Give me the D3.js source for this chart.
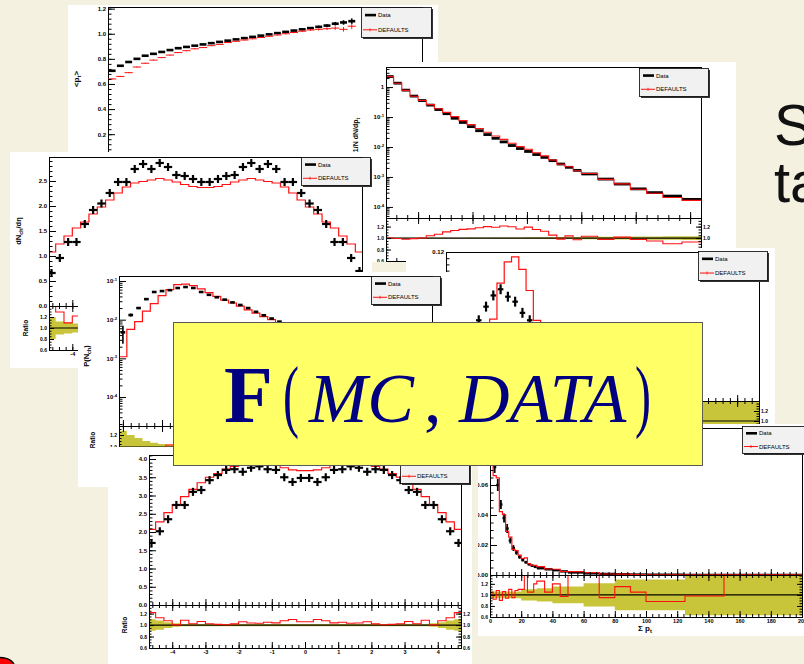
<!DOCTYPE html>
<html>
<head>
<meta charset="utf-8">
<title>F(MC, DATA)</title>
<script src="https://cdn.jsdelivr.net/npm/d3@7/dist/d3.min.js"></script>
<style>
  html, body { margin: 0; padding: 0; background: #f5f1e1; }
  svg { display: block; }
</style>
</head>
<body>
<svg id="chart" width="804" height="664"></svg>
<script>
// ---------------- data ----------------
const legendLabels = ["Data", "DEFAULTS"];

// <p_t> vs N_ch
const ptNch = [1,2,3,4,5,6,7,8,9,10,11,12,13,14,15,16,17,18,19,20,21,22,23,24,25,26,27,28,29,30];
const ptData = [0.705,0.745,0.775,0.800,0.825,0.840,0.855,0.870,0.885,0.895,0.905,0.915,0.925,0.935,0.945,0.955,0.965,0.975,0.985,0.995,1.005,1.015,1.025,1.035,1.045,1.055,1.065,1.080,1.090,1.100];
const ptDataErr = [0.004,0.004,0.004,0.004,0.004,0.004,0.004,0.004,0.004,0.004,0.004,0.004,0.004,0.004,0.004,0.004,0.004,0.004,0.004,0.005,0.005,0.006,0.006,0.007,0.008,0.009,0.011,0.014,0.018,0.022];
const ptMC = [0.640,0.660,0.690,0.735,0.765,0.790,0.810,0.830,0.850,0.865,0.880,0.890,0.905,0.915,0.930,0.940,0.950,0.960,0.970,0.980,0.990,1.000,1.010,1.020,1.030,1.035,1.040,1.045,1.035,1.060];
const ptMCErr = [0.004,0.004,0.004,0.004,0.004,0.004,0.004,0.004,0.004,0.004,0.004,0.004,0.004,0.004,0.004,0.004,0.004,0.004,0.004,0.005,0.005,0.006,0.006,0.007,0.008,0.009,0.011,0.014,0.018,0.022];

// 1/N dN/dp_t
const dndptEdges = [0.4,0.55,0.7,0.85,1.0,1.15,1.3,1.45,1.6,1.75,1.9,2.05,2.2,2.35,2.5,2.65,2.8,2.95,3.1,3.25,3.4,3.55,3.7,3.85,4.0,4.3,4.6,4.9,5.2,5.5,5.85,6.2];
const dndptData = [2.24,1.35,0.79,0.50,0.355,0.25,0.178,0.129,0.091,0.066,0.048,0.035,0.026,0.0195,0.0148,0.0112,0.0089,0.0071,0.0056,0.0045,0.0035,0.0027,0.0021,0.00166,0.00126,0.00085,0.00058,0.0004,0.0003,0.00023,0.000178];
const dndptMC = [2.24,1.34,0.774,0.495,0.355,0.26,0.19,0.143,0.103,0.076,0.0557,0.0413,0.0312,0.0232,0.0179,0.0134,0.0103,0.00845,0.00644,0.00504,0.00368,0.00265,0.00218,0.00161,0.0013,0.00083,0.00059,0.00039,0.000285,0.000207,0.000166];
const dndptBand = [0.005,0.005,0.005,0.005,0.005,0.006,0.006,0.006,0.007,0.007,0.008,0.008,0.009,0.010,0.010,0.011,0.012,0.013,0.014,0.015,0.016,0.017,0.018,0.019,0.020,0.022,0.024,0.026,0.028,0.030,0.032];

// dN_ch/deta, shared eta binning
const etaCenters = [-4.625,-4.375,-4.125,-3.875,-3.625,-3.375,-3.125,-2.875,-2.625,-2.375,-2.125,-1.875,-1.625,-1.375,-1.125,-0.875,-0.625,-0.375,-0.125,0.125,0.375,0.625,0.875,1.125,1.375,1.625,1.875,2.125,2.375,2.625,2.875,3.125,3.375,3.625,3.875,4.125,4.375,4.625];
const etaTicks = [-4,-3,-2,-1,0,1,2,3,4];

const etaLowData = [0.66,0.96,1.28,1.28,1.64,1.92,2.05,2.26,2.48,2.48,2.74,2.84,2.74,2.86,2.78,2.62,2.60,2.54,2.48,2.48,2.54,2.60,2.62,2.78,2.86,2.74,2.84,2.74,2.48,2.48,2.26,2.05,1.92,1.64,1.28,1.28,0.96,0.70];
const etaLowMC = [1.08,1.24,1.40,1.56,1.68,1.84,1.98,2.12,2.26,2.38,2.46,2.49,2.52,2.55,2.52,2.48,2.43,2.39,2.37,2.37,2.39,2.43,2.48,2.52,2.55,2.52,2.49,2.46,2.38,2.26,2.12,1.98,1.84,1.68,1.56,1.40,1.24,1.08];
const etaLowBand = [0.20,0.12,0.10,0.08,0.07,0.06,0.05,0.05,0.04,0.04,0.04,0.04,0.04,0.04,0.04,0.04,0.04,0.04,0.04,0.04,0.04,0.04,0.04,0.04,0.04,0.04,0.04,0.04,0.04,0.04,0.05,0.05,0.06,0.07,0.08,0.10,0.12,0.20];

const etaHighData = [1.70,2.02,2.35,2.74,2.74,3.10,3.15,3.42,3.56,3.70,3.72,3.65,3.76,3.80,3.72,3.70,3.50,3.37,3.48,3.48,3.37,3.50,3.70,3.72,3.80,3.76,3.65,3.72,3.70,3.56,3.42,3.15,3.10,2.74,2.74,2.35,2.02,1.70];
const etaHighMC = [2.07,2.28,2.53,2.75,2.97,3.17,3.35,3.50,3.60,3.72,3.80,3.86,3.90,3.92,3.90,3.84,3.76,3.70,3.68,3.68,3.70,3.76,3.84,3.90,3.92,3.90,3.86,3.80,3.72,3.60,3.50,3.35,3.17,2.97,2.75,2.53,2.28,2.07];
const etaHighBand = [0.10,0.08,0.05,0.03,0.02,0.02,0.02,0.02,0.02,0.02,0.02,0.02,0.02,0.02,0.02,0.02,0.02,0.02,0.02,0.02,0.02,0.02,0.02,0.02,0.02,0.02,0.02,0.02,0.02,0.02,0.02,0.02,0.02,0.02,0.03,0.05,0.08,0.10];

// P(N_ch)
const nch = [0,1,2,3,4,5,6,7,8,9,10,11,12,13,14,15,16,17,18,19,20,21,22,23,24,25,26,27,28,29,30];
const nchData = [0.0047,0.0132,0.020,0.034,0.052,0.055,0.058,0.066,0.070,0.066,0.052,0.044,0.038,0.033,0.028,0.024,0.020,0.016,0.013,0.0107,0.0089,0.0075,0.0063,0.0053,0.0044,0.0037,0.0031,0.0026,0.0021,0.0018,0.0015];
const nchDataErr = [0.0023,0.0012,0.0012,0.0015,0.002,0.002,0.002,0.002,0.002,0.002,0.0018,0.0016,0.0014,0.0012,0.001,0.0009,0.0008,0.0007,0.0006,0.0005,0.0004,0.0004,0.0003,0.0003,0.0003,0.0002,0.0002,0.0002,0.0002,0.0001,0.0001];
const nchMC = [0.0011,0.0056,0.0089,0.0166,0.026,0.042,0.060,0.081,0.083,0.076,0.063,0.050,0.040,0.032,0.027,0.0224,0.018,0.0148,0.012,0.010,0.0081,0.0066,0.0054,0.0044,0.0036,0.0029,0.0024,0.0019,0.0016,0.0013,0.0010];
const nchBand = [0.27,0.20,0.15,0.10,0.07,0.05,0.04,0.03,0.03,0.03,0.03,0.03,0.03,0.03,0.03,0.03,0.03,0.03,0.03,0.03,0.03,0.03,0.03,0.03,0.03,0.03,0.03,0.03,0.03,0.03,0.03];

// peaked distribution (0.12 scale)
const eBins = [3,4,5,6,7,8,9,10,11,12,13,14];
const eData = [0.045,0.065,0.076,0.085,0.090,0.084,0.080,0.071,0.065,0.050,0.035,0.022];
const eDataErr = [0.004,0.004,0.004,0.004,0.004,0.004,0.004,0.004,0.004,0.004,0.004,0.004];
const eMC = [0.005,0.015,0.035,0.066,0.095,0.112,0.116,0.106,0.089,0.065,0.040,0.022];
const eBandEdges = [0,10,20,30,43];
const eBand = [0.10,0.30,0.50,0.50];

// sum p_t
const sptEdges = [0,2,4,6,8,10,12,14,16,18,20,22,24,26,28,30,35,40,45,50,60,70,80,90,100,125,150,200];
const sptData = [0.085,0.072,0.060,0.047,0.038,0.031,0.023,0.018,0.015,0.012,0.010,0.0085,0.0072,0.0062,0.0054,0.0045,0.0038,0.0032,0.0024,0.0017,0.0011,0.0007,0.0005,0.0003,0.0002,0.0001,0.00005];
const sptDataErr = [0.004,0.004,0.004,0.003,0.003,0.003,0.002,0.002,0.0015,0.0012,0.001,0.0009,0.0008,0.0007,0.0006,0.0005,0.0004,0.0004,0.0003,0.0002,0.0002,0.0001,0.0001,0.0001,0.00005,0.00003,0.00002];
const sptMC = [0.08925,0.06624,0.0648,0.0423,0.04028,0.02914,0.0253,0.0171,0.0162,0.0132,0.011,0.011475,0.00756,0.00651,0.00648,0.005625,0.00399,0.00384,0.002328,0.002295,0.001595,0.000665,0.000575,0.000315,0.000176,0.000098,0.000075];
const sptBand = [0.06,0.06,0.06,0.06,0.06,0.06,0.06,0.06,0.06,0.06,0.10,0.10,0.10,0.10,0.10,0.12,0.12,0.15,0.15,0.15,0.21,0.21,0.28,0.28,0.28,0.37,0.37];
const sptTicks = [0,20,40,60,80,100,120,140,160,180,200];

// axis titles
const titleMeanPt = [["<p",0],["t",1],[">",0]];
const titleDndpt = [["1/N dN/dp",0],["t",1]];
const titleDndeta = [["dN",0],["ch",1],["/d",0],["\u03b7",0]];
const titlePnch = [["P(N",0],["ch",1],[")",0]];
const titleRatio = [["Ratio",0]];
const titleSumPt = [["\u03a3 p",0],["t",1]];

// ---------------- drawing helpers ----------------
const FONT = "'Liberation Sans', Arial, Helvetica, sans-serif";
const SERIF = "'Liberation Serif', 'Times New Roman', serif";
const BAND = "#c9c53b";
const RED = "#ff1010";
const FMT1 = d3.format(".1f");
const FMT2 = d3.format(".2f");
const plain = d => String(d);

const svg = d3.select("#chart");
const defs = svg.append("defs");
let clipCount = 0;

function clip(x0, y0, x1, y1) {
  const id = "clip" + (clipCount++);
  defs.append("clipPath").attr("id", id).append("rect")
    .attr("x", x0).attr("y", y0).attr("width", x1 - x0).attr("height", y1 - y0);
  return `url(#${id})`;
}

function sheet(x, y, w, h) {
  const g = svg.append("g").attr("clip-path", clip(x, y, x + w, y + h));
  g.append("rect").attr("x", x).attr("y", y).attr("width", w).attr("height", h).attr("fill", "#fff");
  return g;
}

function frame(g, x0, y0, x1, y1) {
  g.append("rect").attr("x", x0 + 0.5).attr("y", y0 + 0.5)
    .attr("width", x1 - x0).attr("height", y1 - y0)
    .attr("fill", "none").attr("stroke", "#000").attr("stroke-width", 1);
}

const lin = (a, b, s) => d3.range(Math.round(a / s), Math.round(b / s) + 1).map(k => +(k * s).toFixed(6));

function logTicks(scale, minor) {
  const [lo, hi] = d3.extent(scale.domain());
  const out = [];
  for (let e = Math.floor(Math.log10(lo)); e <= Math.ceil(Math.log10(hi)); e++) {
    for (let k = 1; k <= 9; k++) {
      if (!minor && k > 1) break;
      if (minor && k === 1) continue;
      const v = k * Math.pow(10, e);
      if (v >= lo && v <= hi) out.push(v);
    }
  }
  return out;
}

function axis(g, kind, scale, pos, values, len, fmt, fs) {
  const maker = {left: d3.axisLeft, right: d3.axisRight, top: d3.axisTop, bottom: d3.axisBottom}[kind];
  const [d0, d1] = d3.extent(scale.domain());
  const vals = values.filter(v => v >= d0 - 1e-9 && v <= d1 + 1e-9);
  const a = g.append("g")
    .attr("transform", (kind === "left" || kind === "right") ? `translate(${pos},0)` : `translate(0,${pos})`)
    .call(maker(scale).tickValues(vals).tickSize(-len).tickPadding(2).tickFormat(fmt || (() => "")));
  a.select(".domain").remove();
  a.selectAll("line").attr("stroke", "#000").attr("stroke-width", 1);
  a.selectAll("text").attr("fill", "#000").attr("font-family", FONT)
    .attr("font-size", fs || 6).attr("font-weight", "bold");
  return a;
}

function logLabels(a) {
  a.selectAll(".tick text").each(function(d) {
    const e = Math.round(Math.log10(d));
    const t = d3.select(this).text(null);
    if (e === 0) { t.text("1"); return; }
    t.append("tspan").text("10");
    t.append("tspan").attr("dy", -2.6).attr("font-size", 4.2).text(e);
  });
}

function logAxis(g, scale, pos) {
  axis(g, "left", scale, pos, logTicks(scale, true), 3.5);
  logLabels(axis(g, "left", scale, pos, logTicks(scale, false), 7, plain, 6));
}

function markers(g, x, y, lo, hi, vals, errs, color, w, ew) {
  g.append("g").selectAll("line").data(vals).join("line")
    .attr("x1", (d, i) => x(lo[i])).attr("x2", (d, i) => x(hi[i]))
    .attr("y1", d => y(d)).attr("y2", d => y(d))
    .attr("stroke", color).attr("stroke-width", w);
  if (errs) {
    g.append("g").selectAll("line").data(vals).join("line")
      .attr("x1", (d, i) => (x(lo[i]) + x(hi[i])) / 2).attr("x2", (d, i) => (x(lo[i]) + x(hi[i])) / 2)
      .attr("y1", (d, i) => y(d - errs[i])).attr("y2", (d, i) => y(d + errs[i]))
      .attr("stroke", color).attr("stroke-width", ew || w);
  }
}

function stepLine(g, x, y, edges, vals, color, w) {
  const pts = vals.map((v, i) => [edges[i], v]);
  pts.push([edges[vals.length], vals[vals.length - 1]]);
  g.append("path").datum(pts)
    .attr("d", d3.line().curve(d3.curveStepAfter).x(d => x(d[0])).y(d => y(d[1])))
    .attr("fill", "none").attr("stroke", color).attr("stroke-width", w);
}

function band(g, x, r, edges, halves) {
  const pts = halves.map((h, i) => [edges[i], h]);
  pts.push([edges[halves.length], halves[halves.length - 1]]);
  g.append("path").datum(pts)
    .attr("d", d3.area().curve(d3.curveStepAfter).x(d => x(d[0])).y0(d => r(1 - d[1])).y1(d => r(1 + d[1])))
    .attr("fill", BAND).attr("stroke", "none");
}

function unitLine(g, x, r) {
  const [a, b] = x.domain();
  g.append("line").attr("x1", x(a)).attr("x2", x(b)).attr("y1", r(1)).attr("y2", r(1))
    .attr("stroke", "#000").attr("stroke-width", 1.2);
}

function title(g, x, y, parts, fs, vertical) {
  const t = g.append("text")
    .attr("transform", vertical ? `translate(${x},${y}) rotate(-90)` : `translate(${x},${y})`)
    .attr("text-anchor", "middle").attr("font-family", FONT).attr("font-weight", "bold")
    .attr("font-size", fs).attr("fill", "#000");
  let cur = 0;
  parts.forEach(([s, lvl]) => {
    const target = lvl === 1 ? fs * 0.3 : 0;
    t.append("tspan").attr("dy", target - cur).attr("font-size", lvl ? fs * 0.72 : fs).text(s);
    cur = target;
  });
}

function legend(g, x, y, w, h) {
  const L = g.append("g");
  L.append("rect").attr("x", x + 2).attr("y", y + 2).attr("width", w).attr("height", h).attr("fill", "#333");
  L.append("rect").attr("x", x + 0.5).attr("y", y + 0.5).attr("width", w).attr("height", h)
    .attr("fill", "#f1f1f1").attr("stroke", "#000").attr("stroke-width", 0.8);
  const y1 = y + h * 0.27, y2 = y + h * 0.76;
  L.append("line").attr("x1", x + 4).attr("x2", x + 15).attr("y1", y1).attr("y2", y1)
    .attr("stroke", "#000").attr("stroke-width", 2.6);
  L.append("line").attr("x1", x + 2).attr("x2", x + 16).attr("y1", y2).attr("y2", y2)
    .attr("stroke", RED).attr("stroke-width", 1);
  L.append("line").attr("x1", x + 9).attr("x2", x + 9).attr("y1", y2 - 1.5).attr("y2", y2 + 1.5)
    .attr("stroke", RED).attr("stroke-width", 0.8);
  [y1, y2].forEach((yy, i) => {
    L.append("text").attr("x", x + 17).attr("y", yy + 2.1).attr("font-family", FONT)
      .attr("font-size", 6).attr("fill", "#000").text(legendLabels[i]);
  });
}

const ratioOf = (mc, data) => mc.map((m, i) => m / data[i]);
const lowEdge = (c, h) => c.map(v => v - h);
const allEdges = (c, h) => c.map(v => v - h).concat([c[c.length - 1] + h]);

// ratio sub-panel axes shared by all ratio pads
function ratioAxes(g, r, xl, xr, leftLabels, rightLabels) {
  axis(g, "left", r, xl, lin(0.6, 1.4, 0.05), 2.5);
  axis(g, "left", r, xl, [0.6, 0.8, 1.0, 1.2], 5, leftLabels ? FMT1 : null, 5);
  axis(g, "right", r, xr, lin(0.6, 1.4, 0.05), 2.5);
  axis(g, "right", r, xr, [0.6, 0.8, 1.0, 1.2], 5, rightLabels ? FMT1 : null, 5);
}

function xTicks(g, x, yMain, yRatioBottom, minor, major, labels) {
  axis(g, "bottom", x, yMain, minor, 3);
  axis(g, "bottom", x, yMain, major, 6);
  axis(g, "top", x, yMain, minor, 3);
  axis(g, "top", x, yMain, major, 6);
  axis(g, "bottom", x, yRatioBottom, minor, 3);
  axis(g, "bottom", x, yRatioBottom, major, 6, labels ? plain : null, 5.5);
}

// ---------------- <p_t> vs N_ch ----------------
(function () {
  const g = sheet(68, 5, 370, 160);
  const x = d3.scaleLinear().domain([0.5, 38.5]).range([108, 422]);
  const y = d3.scaleLinear().domain([0, 1.213]).range([159.3, 7]);
  frame(g, 108, 7, 422, 220);
  const pg = g.append("g").attr("clip-path", clip(108, 7, 422, 220));
  markers(pg, x, y, ptNch.map(n => n - 0.42), ptNch.map(n => n + 0.42), ptData, ptDataErr, "#000", 2.6, 1.6);
  markers(pg, x, y, ptNch.map(n => n - 0.5), ptNch.map(n => n + 0.5), ptMC, ptMCErr, RED, 1, 1);
  axis(g, "left", y, 108, lin(0, 1.2, 0.04), 3.5);
  axis(g, "left", y, 108, lin(0, 1.2, 0.2), 7, FMT1);
  title(g, 79, 79, titleMeanPt, 8, true);
  legend(g, 361, 7, 70, 30);
})();

// ---------------- 1/N dN/dp_t ----------------
(function () {
  const g = sheet(350, 62, 386, 200);
  const x = d3.scaleLinear().domain([0.41, 6.2]).range([386, 701]);
  const y = d3.scaleLog().domain([4.27e-5, 4.677]).range([218, 67]);
  const r = d3.scaleLinear().domain([0.6, 1.35]).range([261, 218]);
  const rg = g.append("g").attr("clip-path", clip(386, 218, 701, 261));
  band(rg, x, r, dndptEdges, dndptBand);
  unitLine(rg, x, r);
  stepLine(rg, x, r, dndptEdges, ratioOf(dndptMC, dndptData), RED, 1.1);
  const mg = g.append("g").attr("clip-path", clip(386, 67, 701, 218));
  markers(mg, x, y, dndptEdges.slice(0, -1), dndptEdges.slice(1), dndptData, null, "#000", 2.8);
  stepLine(mg, x, y, dndptEdges, dndptMC, RED, 1.1);
  frame(g, 386, 67, 701, 218);
  frame(g, 386, 218, 701, 261);
  logAxis(g, y, 386);
  xTicks(g, x, 218, 261, lin(0.6, 6.2, 0.2), [1, 2, 3, 4, 5, 6], false);
  ratioAxes(g, r, 386, 701, true, true);
  title(g, 358, 135, titleDndpt, 7, true);
  legend(g, 639, 68, 69, 28);
})();

// ---------------- dN_ch/deta (lower energy) ----------------
(function () {
  const g = sheet(10, 152, 362, 216);
  const x = d3.scaleLinear().domain([-4.7, 4.7]).range([49, 362]);
  const y = d3.scaleLinear().domain([0, 2.98]).range([306, 157]);
  const r = d3.scaleLinear().domain([0.6, 1.4]).range([350, 306]);
  const edges = allEdges(etaCenters, 0.125);
  const rg = g.append("g").attr("clip-path", clip(49, 306, 362, 350));
  band(rg, x, r, edges, etaLowBand);
  unitLine(rg, x, r);
  stepLine(rg, x, r, edges, ratioOf(etaLowMC, etaLowData), RED, 1.1);
  const mg = g.append("g").attr("clip-path", clip(49, 157, 362, 306));
  stepLine(mg, x, y, edges, etaLowMC, RED, 1.2);
  markers(mg, x, y, lowEdge(etaCenters, 0.125), lowEdge(etaCenters, -0.125), etaLowData,
    etaLowData.map(() => 0.08), "#000", 2.2);
  frame(g, 49, 157, 362, 306);
  frame(g, 49, 306, 362, 350);
  axis(g, "left", y, 49, lin(0, 2.9, 0.1), 3.5);
  axis(g, "left", y, 49, lin(0, 2.5, 0.5), 7, FMT1);
  xTicks(g, x, 306, 350, lin(-4.6, 4.6, 0.2), etaTicks, true);
  ratioAxes(g, r, 49, 362, true, true);
  title(g, 21, 231, titleDndeta, 7.5, true);
  title(g, 28, 328, titleRatio, 6.5, true);
  legend(g, 301, 157, 69, 28);
})();

// ---------------- peaked distribution ----------------
(function () {
  const g = sheet(406, 248, 369, 177);
  const x = d3.scaleLinear().domain([0, 43]).range([446, 759]);
  const y = d3.scaleLinear().domain([0, 0.12]).range([401, 252]);
  const r = d3.scaleLinear().domain([0.6, 1.4]).range([441, 401]);
  const edges = eBins.concat([eBins[eBins.length - 1] + 1]);
  const rg = g.append("g").attr("clip-path", clip(446, 401, 759, 441));
  band(rg, x, r, eBandEdges, eBand);
  unitLine(rg, x, r);
  stepLine(rg, x, r, edges, ratioOf(eMC, eData), RED, 1.1);
  const mg = g.append("g").attr("clip-path", clip(446, 252, 759, 401));
  markers(mg, x, y, eBins.map(n => n + 0.12), eBins.map(n => n + 0.88), eData, eDataErr, "#000", 2.2);
  stepLine(mg, x, y, edges, eMC, RED, 1.2);
  frame(g, 446, 252, 759, 401);
  frame(g, 446, 401, 759, 441);
  axis(g, "left", y, 446, lin(0, 0.12, 0.005), 3.5);
  axis(g, "left", y, 446, lin(0, 0.12, 0.02), 7, FMT2);
  xTicks(g, x, 401, 441, lin(0, 43, 1), lin(0, 40, 10), false);
  ratioAxes(g, r, 446, 759, false, true);
  legend(g, 698, 251, 69, 29);
})();

// ---------------- P(N_ch) ----------------
(function () {
  const g = sheet(78, 272, 377, 215);
  const x = d3.scaleLinear().domain([-0.5, 39.5]).range([119, 432]);
  const y = d3.scaleLog().domain([1.778e-5, 0.1349]).range([426, 276]);
  const r = d3.scaleLinear().domain([0.6, 1.35]).range([471, 426]);
  const edges = allEdges(nch, 0.5);
  const rg = g.append("g").attr("clip-path", clip(119, 426, 432, 471));
  band(rg, x, r, edges, nchBand);
  unitLine(rg, x, r);
  stepLine(rg, x, r, edges, ratioOf(nchMC, nchData), RED, 1.1);
  const mg = g.append("g").attr("clip-path", clip(119, 276, 432, 426));
  stepLine(mg, x, y, edges, nchMC, RED, 1.2);
  markers(mg, x, y, lowEdge(nch, 0.3), lowEdge(nch, -0.3), nchData, nchDataErr, "#000", 2.6, 1.6);
  frame(g, 119, 276, 432, 426);
  frame(g, 119, 426, 432, 471);
  logAxis(g, y, 119);
  xTicks(g, x, 426, 471, lin(0, 39, 1), lin(0, 35, 5), false);
  ratioAxes(g, r, 119, 432, true, true);
  title(g, 89, 356, titlePnch, 7.5, true);
  title(g, 95, 440, titleRatio, 6.5, true);
  legend(g, 371, 276, 69, 28);
})();

// ---------------- dN_ch/deta (higher energy) ----------------
(function () {
  const g = sheet(108, 447, 364, 217);
  const x = d3.scaleLinear().domain([-4.7, 4.7]).range([149, 461]);
  const y = d3.scaleLinear().domain([0, 4.1]).range([605, 455.35]);
  const r = d3.scaleLinear().domain([0.6, 1.35]).range([648, 605]);
  const edges = allEdges(etaCenters, 0.125);
  const rg = g.append("g").attr("clip-path", clip(149, 605, 461, 648));
  band(rg, x, r, edges, etaHighBand);
  unitLine(rg, x, r);
  stepLine(rg, x, r, edges, ratioOf(etaHighMC, etaHighData), RED, 1.1);
  const mg = g.append("g").attr("clip-path", clip(149, 455, 461, 605));
  stepLine(mg, x, y, edges, etaHighMC, RED, 1.2);
  markers(mg, x, y, lowEdge(etaCenters, 0.125), lowEdge(etaCenters, -0.125), etaHighData,
    etaHighData.map(() => 0.11), "#000", 2.2);
  frame(g, 149, 455, 461, 605);
  frame(g, 149, 605, 461, 648);
  axis(g, "left", y, 149, lin(0, 4.1, 0.1), 3.5);
  axis(g, "left", y, 149, lin(0, 4, 0.5), 7, FMT1);
  xTicks(g, x, 605, 648, lin(-4.6, 4.6, 0.2), etaTicks, true);
  ratioAxes(g, r, 149, 461, true, true);
  title(g, 127, 625, titleRatio, 6.5, true);
  legend(g, 400, 455, 69, 28);
})();

// ---------------- sum p_t ----------------
(function () {
  const g = sheet(478, 424, 326, 212);
  const x = d3.scaleLinear().domain([0, 200]).range([490, 802]);
  const y = d3.scaleLinear().domain([0, 0.098]).range([575, 428]);
  const r = d3.scaleLinear().domain([0.6, 1.36]).range([617, 575]);
  const rg = g.append("g").attr("clip-path", clip(490, 575, 802, 617));
  band(rg, x, r, sptEdges, sptBand);
  unitLine(rg, x, r);
  stepLine(rg, x, r, sptEdges, ratioOf(sptMC, sptData), RED, 1.1);
  const mg = g.append("g").attr("clip-path", clip(490, 428, 802, 575));
  markers(mg, x, y, sptEdges.slice(0, -1), sptEdges.slice(1), sptData, sptDataErr, "#000", 2.4, 1.8);
  stepLine(mg, x, y, sptEdges, sptMC, RED, 1.2);
  frame(g, 490, 428, 802, 575);
  frame(g, 490, 575, 802, 617);
  axis(g, "left", y, 490, lin(0, 0.095, 0.005), 3.5);
  axis(g, "left", y, 490, lin(0, 0.08, 0.02), 7, FMT2);
  xTicks(g, x, 575, 617, lin(0, 200, 4), sptTicks, true);
  ratioAxes(g, r, 490, 802, true, false);
  title(g, 645, 631, titleSumPt, 8, false);
  legend(g, 742, 426, 69, 27);
})();

// ---------------- central formula box ----------------
(function () {
  const g = svg.append("g");
  g.append("rect").attr("x", 173.5).attr("y", 322.5).attr("width", 529).attr("height", 143)
    .attr("fill", "#ffff66").attr("stroke", "#5a5a5a").attr("stroke-width", 1);
  const t = g.append("g").attr("fill", "#000080").attr("font-family", SERIF);
  t.append("text").attr("x", 224).attr("y", 422).attr("font-size", 80).attr("font-weight", "bold").text("F");
  t.append("text").attr("transform", "translate(283,422) scale(0.6,1)").attr("font-size", 80).text("(");
  t.append("text").attr("x", 309).attr("y", 422).attr("font-size", 70).attr("font-style", "italic").text("MC");
  t.append("text").attr("x", 424).attr("y", 422).attr("font-size", 70).text(",");
  t.append("text").attr("x", 459).attr("y", 422).attr("font-size", 70).attr("font-style", "italic").text("DATA");
  t.append("text").attr("transform", "translate(635,422) scale(0.6,1)").attr("font-size", 80).text(")");
})();

// ---------------- slide text around the plots ----------------
svg.append("text").attr("x", 774).attr("y", 145).attr("font-family", FONT).attr("font-size", 58)
  .attr("fill", "#111").text("S");
svg.append("text").attr("x", 774).attr("y", 202).attr("font-family", FONT).attr("font-size", 58)
  .attr("fill", "#111").text("ta");
svg.append("text").attr("x", -20).attr("y", 703).attr("font-family", FONT).attr("font-size", 64)
  .attr("font-weight", "bold").attr("fill", "#ff0000").attr("stroke", "#000").attr("stroke-width", 1.5)
  .text("?");
</script>
</body>
</html>
